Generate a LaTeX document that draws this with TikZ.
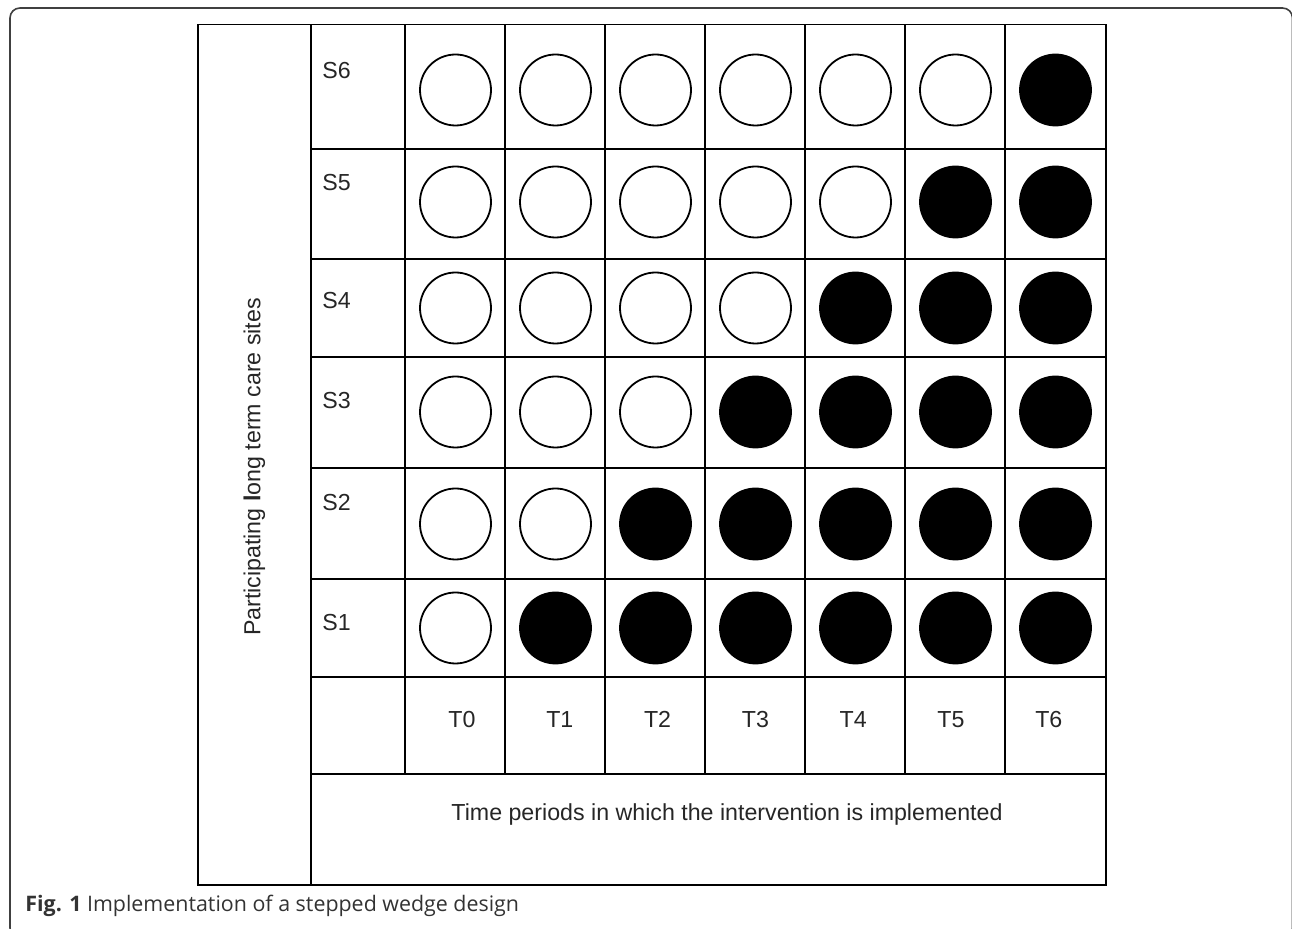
\documentclass[tikz,border=0pt]{standalone}
\usepackage{fontspec}
\setmainfont{Liberation Sans}
\newfontfamily\wedgecaptionfamily{Open Sans}
\usepackage{tikz}
\newcommand{\wedgefont}{\linespread{1}\fontsize{11.6}{13.9}\selectfont}
\newcommand{\wedgecapfont}{\wedgecaptionfamily\linespread{1}\fontsize{10.7}{12.8}\selectfont}
\tikzset{
    wedge/chart/.style={x=0.5pt, y=-0.5pt, font=\wedgefont, every node/.style={inner sep=0pt}},
    wedge/frame/.style={draw=black!75, line width=0.8pt, rounded corners=5pt},
    wedge/grid/.style={draw=black, line width=0.75pt},
    wedge/open/.style={circle, draw=black, fill=white, line width=0.9pt, minimum size=35.5pt},
    wedge/done/.style={circle, draw=black, fill=black, line width=0.9pt, minimum size=35.5pt},
    wedge/label/.style={text=black!85},
    wedge/caption/.style={font=\wedgecapfont, text=black!80, anchor=west}
}

\begin{document}
\begin{tikzpicture}[wedge/chart]
    \useasboundingbox (0,0) rectangle (1292,929);
    \begin{scope}
        \clip (0,0) rectangle (1292,929);
        \draw[wedge/frame] (10,8) rectangle (1292.5,938);
    \end{scope}
    \draw[wedge/grid] (198,24.5) rectangle (1106,885);
    \draw[wedge/grid] (311,24.5) -- (311,885);
    \draw[wedge/grid] (311,774) -- (1106,774);
    \foreach \x in {405,505,605,705,805,905,1005}
        \draw[wedge/grid] (\x,24.5) -- (\x,774);
    \foreach \y in {149,259,357,468,579,677}
        \draw[wedge/grid] (311,\y) -- (1106,\y);
    \foreach \site/\cy/\ly in {6/90/79,5/202/191,4/308/309,3/412/409,2/524/511,1/628/631} {
        \node[wedge/label, anchor=base west] (site\site) at (322,\ly) {S\site};
        \foreach \t in {0,...,6} {
            \ifnum\t<\site
                \node[wedge/open] (c\site\t) at (455.5+100*\t,\cy) {};
            \else
                \node[wedge/done] (c\site\t) at (455.5+100*\t,\cy) {};
            \fi
        }
    }
    \foreach \t in {0,...,6}
        \node[wedge/label, anchor=base] (time\t) at (462+97.8*\t,728) {T\t};
    \node[wedge/label, rotate=90] (sites) at (254.5,467) {Participating \textbf{l}ong term care sites};
    \node[wedge/label] (periods) at (727,815) {Time periods in which the intervention is implemented};
    \node[wedge/caption] (caption) at (25,906) {\textbf{Fig. 1} Implementation of a stepped wedge design};
\end{tikzpicture}
\end{document}
